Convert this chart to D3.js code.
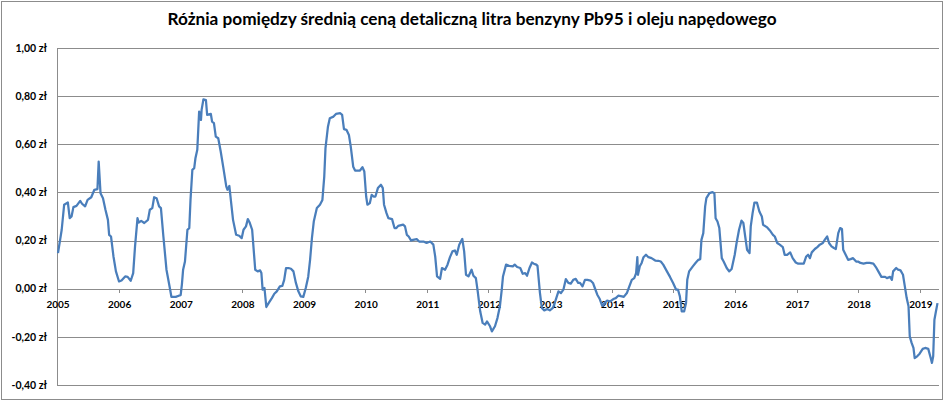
<!DOCTYPE html>
<html>
<head>
<meta charset="utf-8">
<script src="https://cdn.jsdelivr.net/npm/d3@7"></script>
<style>
  body { margin: 0; background: #fff; }
  svg { display: block; font-family: Lato, "Open Sans", sans-serif; }
  .grid line { stroke: #8c8c8c; stroke-width: 1; shape-rendering: crispEdges; }
  .lbl { font-weight: bold; fill: #000; }
</style>
</head>
<body>
<svg id="chart" width="945" height="401"></svg>
<script>
const title = "Różnia pomiędzy średnią ceną detaliczną litra benzyny Pb95 i oleju napędowego";

// x: time as decimal year
const time = [
  2005.00, 2005.06, 2005.10, 2005.16, 2005.19, 2005.22, 2005.25, 2005.30, 2005.36, 2005.39,
  2005.44, 2005.48, 2005.54, 2005.59, 2005.64, 2005.66, 2005.69, 2005.73, 2005.77, 2005.81,
  2005.83, 2005.86, 2005.90, 2005.94, 2005.99, 2006.03, 2006.09, 2006.13, 2006.18, 2006.22,
  2006.25, 2006.29, 2006.31, 2006.35, 2006.40, 2006.46, 2006.49, 2006.53, 2006.56, 2006.60,
  2006.64, 2006.67, 2006.71, 2006.76, 2006.82, 2006.84, 2006.91, 2006.96, 2006.99, 2007.01,
  2007.03, 2007.06, 2007.10, 2007.13, 2007.15, 2007.18, 2007.21, 2007.23, 2007.26, 2007.29,
  2007.32, 2007.33, 2007.36, 2007.40, 2007.42, 2007.48, 2007.50, 2007.53, 2007.56, 2007.60,
  2007.64, 2007.68, 2007.73, 2007.75, 2007.78, 2007.81, 2007.84, 2007.89, 2007.94, 2007.98,
  2008.01, 2008.05, 2008.08, 2008.11, 2008.15, 2008.20, 2008.24, 2008.28, 2008.30, 2008.32,
  2008.35, 2008.38, 2008.42, 2008.47, 2008.51, 2008.55, 2008.60, 2008.64, 2008.67, 2008.70,
  2008.74, 2008.78, 2008.82, 2008.86, 2008.90, 2008.94, 2008.98, 2009.02, 2009.06, 2009.09,
  2009.12, 2009.15, 2009.20, 2009.25, 2009.29, 2009.32, 2009.34, 2009.38, 2009.41, 2009.47,
  2009.51, 2009.58, 2009.61, 2009.64, 2009.68, 2009.72, 2009.75, 2009.79, 2009.82, 2009.90,
  2009.94, 2009.97, 2010.00, 2010.02, 2010.06, 2010.09, 2010.12, 2010.15, 2010.19, 2010.24,
  2010.27, 2010.29, 2010.33, 2010.36, 2010.42, 2010.46, 2010.49, 2010.52, 2010.60, 2010.63,
  2010.66, 2010.69, 2010.73, 2010.76, 2010.82, 2010.86, 2010.93, 2010.98, 2011.04, 2011.09,
  2011.12, 2011.15, 2011.20, 2011.23, 2011.28, 2011.32, 2011.36, 2011.40, 2011.44, 2011.47,
  2011.51, 2011.56, 2011.59, 2011.62, 2011.66, 2011.71, 2011.74, 2011.78, 2011.81, 2011.85,
  2011.89, 2011.93, 2011.96, 2012.01, 2012.04, 2012.09, 2012.13, 2012.17, 2012.20, 2012.22,
  2012.27, 2012.32, 2012.38, 2012.41, 2012.45, 2012.50, 2012.54, 2012.58, 2012.61, 2012.65,
  2012.69, 2012.72, 2012.76, 2012.78, 2012.82, 2012.85, 2012.89, 2012.94, 2012.98, 2013.03,
  2013.06, 2013.12, 2013.16, 2013.20, 2013.24, 2013.28, 2013.32, 2013.36, 2013.40, 2013.44,
  2013.47, 2013.51, 2013.55, 2013.59, 2013.64, 2013.68, 2013.71, 2013.75, 2013.79, 2013.83,
  2013.87, 2013.91, 2013.96, 2014.01, 2014.05, 2014.09, 2014.15, 2014.18, 2014.23, 2014.27,
  2014.31, 2014.35, 2014.38, 2014.40, 2014.41, 2014.44, 2014.47, 2014.50, 2014.54, 2014.58,
  2014.63, 2014.69, 2014.74, 2014.78, 2014.82, 2014.88, 2014.93, 2014.98, 2015.03, 2015.06,
  2015.09, 2015.12, 2015.16, 2015.19, 2015.21, 2015.24, 2015.30, 2015.35, 2015.39, 2015.42,
  2015.44, 2015.47, 2015.50, 2015.52, 2015.57, 2015.62, 2015.65, 2015.67, 2015.70, 2015.73,
  2015.77, 2015.80, 2015.85, 2015.89, 2015.93, 2015.98, 2016.01, 2016.05, 2016.09, 2016.12,
  2016.15, 2016.18, 2016.22, 2016.24, 2016.27, 2016.30, 2016.34, 2016.38, 2016.42, 2016.44,
  2016.50, 2016.55, 2016.60, 2016.63, 2016.67, 2016.71, 2016.76, 2016.79, 2016.83, 2016.88,
  2016.92, 2016.97, 2017.01, 2017.07, 2017.10, 2017.14, 2017.17, 2017.20, 2017.23, 2017.28,
  2017.32, 2017.36, 2017.41, 2017.44, 2017.48, 2017.51, 2017.55, 2017.59, 2017.62, 2017.66,
  2017.69, 2017.72, 2017.74, 2017.78, 2017.82, 2017.86, 2017.90, 2017.95, 2017.98, 2018.02,
  2018.07, 2018.12, 2018.17, 2018.23, 2018.27, 2018.31, 2018.36, 2018.42, 2018.45, 2018.50,
  2018.53, 2018.55, 2018.60, 2018.63, 2018.67, 2018.71, 2018.74, 2018.77, 2018.80, 2018.82,
  2018.85, 2018.88, 2018.90, 2018.94, 2018.98, 2019.03, 2019.07, 2019.12, 2019.16, 2019.18,
  2019.20, 2019.22, 2019.24, 2019.27
];

// y: Pb95 minus diesel, zł per litre
const diff = [
  0.148, 0.245, 0.349, 0.358, 0.293, 0.300, 0.339, 0.344, 0.365, 0.353,
  0.342, 0.369, 0.380, 0.411, 0.414, 0.528, 0.397, 0.376, 0.328, 0.286,
  0.224, 0.217, 0.134, 0.072, 0.030, 0.034, 0.051, 0.049, 0.033, 0.065,
  0.176, 0.293, 0.275, 0.282, 0.273, 0.286, 0.328, 0.335, 0.380, 0.376,
  0.342, 0.335, 0.217, 0.079, -0.004, -0.034, -0.034, -0.029, -0.027, 0.017,
  0.079, 0.113, 0.245, 0.252, 0.369, 0.494, 0.501, 0.542, 0.577, 0.736,
  0.701, 0.743, 0.787, 0.784, 0.722, 0.726, 0.694, 0.688, 0.632, 0.625,
  0.570, 0.507, 0.425, 0.411, 0.427, 0.356, 0.286, 0.224, 0.220, 0.210,
  0.245, 0.259, 0.289, 0.275, 0.245, 0.079, 0.072, 0.076, 0.065, -0.004,
  0.003, -0.076, -0.059, -0.039, -0.021, -0.011, 0.010, 0.012, 0.037, 0.086,
  0.086, 0.083, 0.072, 0.024, -0.011, -0.032, -0.034, 0.003, 0.050, 0.120,
  0.210, 0.279, 0.335, 0.349, 0.369, 0.466, 0.584, 0.673, 0.708, 0.715,
  0.726, 0.729, 0.722, 0.663, 0.660, 0.639, 0.590, 0.507, 0.491, 0.491,
  0.505, 0.487, 0.383, 0.349, 0.356, 0.390, 0.383, 0.383, 0.418, 0.432,
  0.418, 0.349, 0.314, 0.293, 0.289, 0.252, 0.252, 0.261, 0.266, 0.259,
  0.224, 0.217, 0.200, 0.203, 0.206, 0.196, 0.196, 0.190, 0.196, 0.183,
  0.134, 0.051, 0.041, 0.086, 0.079, 0.100, 0.131, 0.155, 0.159, 0.141,
  0.183, 0.207, 0.155, 0.058, 0.051, 0.079, 0.054, 0.044, -0.011, -0.094,
  -0.142, -0.149, -0.136, -0.156, -0.177, -0.156, -0.122, -0.073, -0.004, 0.051,
  0.100, 0.095, 0.093, 0.100, 0.090, 0.086, 0.062, 0.065, 0.054, 0.086,
  0.109, 0.104, 0.100, 0.095, -0.018, -0.080, -0.090, -0.084, -0.090, -0.080,
  -0.059, -0.011, -0.018, -0.004, 0.040, 0.024, 0.021, 0.037, 0.041, 0.024,
  0.024, 0.010, 0.037, 0.037, 0.034, 0.024, 0.003, -0.025, -0.043, -0.071,
  -0.059, -0.049, -0.053, -0.043, -0.039, -0.029, -0.032, -0.034, -0.018, 0.010,
  0.037, 0.044, 0.065, 0.131, 0.058, 0.093, 0.107, 0.131, 0.141, 0.131,
  0.127, 0.117, 0.116, 0.113, 0.100, 0.072, 0.049, 0.024, -0.004, -0.004,
  -0.032, -0.094, -0.094, -0.059, 0.037, 0.072, 0.093, 0.109, 0.120, 0.123,
  0.203, 0.231, 0.342, 0.376, 0.397, 0.401, 0.397, 0.293, 0.279, 0.252,
  0.127, 0.113, 0.086, 0.072, 0.082, 0.141, 0.190, 0.245, 0.283, 0.273,
  0.217, 0.162, 0.148, 0.259, 0.314, 0.358, 0.358, 0.321, 0.300, 0.266,
  0.256, 0.242, 0.224, 0.217, 0.190, 0.183, 0.173, 0.141, 0.141, 0.151,
  0.127, 0.109, 0.104, 0.104, 0.104, 0.134, 0.141, 0.127, 0.151, 0.165,
  0.173, 0.183, 0.190, 0.203, 0.217, 0.190, 0.176, 0.169, 0.165, 0.231,
  0.252, 0.248, 0.162, 0.141, 0.120, 0.123, 0.127, 0.113, 0.113, 0.107,
  0.104, 0.107, 0.107, 0.104, 0.090, 0.072, 0.049, 0.049, 0.044, 0.049,
  0.037, 0.072, 0.086, 0.079, 0.076, 0.058, 0.010, -0.039, -0.073, -0.198,
  -0.225, -0.246, -0.288, -0.281, -0.270, -0.250, -0.246, -0.250, -0.288, -0.308,
  -0.281, -0.129, -0.101, -0.060
];

const years = [2005, 2006, 2007, 2008, 2009, 2010, 2011, 2012, 2013, 2014, 2015, 2016, 2017, 2018, 2019];
const yTicks = [-0.4, -0.2, 0, 0.2, 0.4, 0.6, 0.8, 1.0];

const pl = d3.formatLocale({ decimal: ",", thousands: " ", grouping: [3], currency: ["", " zł"], minus: "-" });
const fmtZl = v => pl.format(".2f")(v) + " zł";

const plot = { left: 58, right: 937.5, top: 48, bottom: 385 };

const svg = d3.select("#chart");

// outer frame
svg.append("rect")
  .attr("x", 1.5).attr("y", 1.5)
  .attr("width", 941).attr("height", 398)
  .attr("fill", "#fff")
  .attr("stroke", "#8c8c8c")
  .attr("stroke-width", 1);

const x = d3.scaleLinear().domain([2005, 2019.27]).range([plot.left, plot.right]);
const y = d3.scaleLinear().domain([-0.4, 1.0]).range([plot.bottom, plot.top]);

// horizontal gridlines
svg.append("g").attr("class", "grid")
  .selectAll("line")
  .data(yTicks)
  .enter().append("line")
  .attr("x1", plot.left).attr("x2", plot.right + 1)
  .attr("y1", d => Math.round(y(d)) + 0.5)
  .attr("y2", d => Math.round(y(d)) + 0.5);

// y axis line
svg.append("g").attr("class", "grid")
  .append("line")
  .attr("x1", plot.left - 0.5).attr("x2", plot.left - 0.5)
  .attr("y1", plot.top).attr("y2", plot.bottom + 1);

// y labels
svg.append("g")
  .selectAll("text")
  .data(yTicks)
  .enter().append("text")
  .attr("class", "lbl")
  .attr("x", 47)
  .attr("y", d => y(d))
  .attr("dy", "0.35em")
  .attr("text-anchor", "end")
  .style("font-size", "10.5px")
  .text(fmtZl);

// x axis at zero: ticks and year labels
const xAxis = svg.append("g").attr("class", "grid");
xAxis.selectAll("line")
  .data(years)
  .enter().append("line")
  .attr("x1", d => Math.round(x(d)) - 0.5)
  .attr("x2", d => Math.round(x(d)) - 0.5)
  .attr("y1", Math.round(y(0)))
  .attr("y2", Math.round(y(0)) + 4);

svg.append("g")
  .selectAll("text")
  .data(years)
  .enter().append("text")
  .attr("class", "lbl")
  .attr("x", d => x(d))
  .attr("y", y(0) + 19)
  .attr("text-anchor", "middle")
  .style("font-size", "10px")
  .text(d => d);

// the series
const line = d3.line()
  .x((d, i) => x(time[i]))
  .y(d => y(d));

svg.append("path")
  .datum(diff)
  .attr("fill", "none")
  .attr("stroke", "#4a7ebb")
  .attr("stroke-width", 2.25)
  .attr("stroke-linejoin", "round")
  .attr("d", line);

// title
svg.append("text")
  .attr("class", "lbl")
  .attr("x", 472)
  .attr("y", 25)
  .attr("text-anchor", "middle")
  .style("font-size", "17.2px")
  .text(title);
</script>
</body>
</html>
